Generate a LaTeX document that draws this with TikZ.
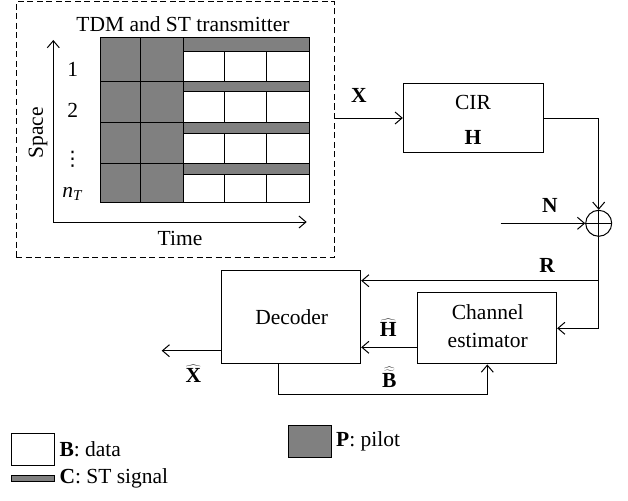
\documentclass[tikz,border=0pt]{standalone}
\usepackage{fontspec}
\setmainfont{Liberation Serif}
\newfontfamily\dvfont{DejaVu Sans}
\usetikzlibrary{arrows.meta}
\begin{document}
\begin{tikzpicture}[x=1pt,y=-1pt,
  every node/.style={font=\fontsize{21.5}{25}\selectfont, inner sep=0pt},
  ln/.style={line width=1pt},
  arr/.style={ln, -{Straight Barb[length=7pt,width=12pt,line width=1pt]}},
  blk/.style={ln, draw, rectangle, inner sep=0pt},
  pil/.style={ln, draw, fill=gray},
  dat/.style={ln, draw, fill=white},
  lbl/.style={anchor=center}]
\useasboundingbox (0,0) rectangle (628,500);

% transmitter frame
\node[ln, draw, dash pattern=on 6pt off 3.5pt, minimum width=318pt, minimum height=255pt] (tx) at (175,129.5) {};
\node[lbl] (title) at (183,24) {TDM and ST transmitter};

% pilot columns
\draw[pil] (100,37.3) rectangle (183,202.7);
\draw[ln] (140,37.3) -- (140,202.7);
\foreach \t in {81.7,122.7,163.7}{
  \draw[ln] (100,\t) -- (183,\t);
}
% ST stripes and data cells
\foreach \t/\s/\b in {37.3/51.7/81.7, 81.7/92/122.7, 122.7/133.3/163.7, 163.7/174.7/202.7}{
  \draw[pil] (183,\t) rectangle (309,\s);
  \draw[dat] (183,\s) rectangle (224,\b);
  \draw[dat] (224,\s) rectangle (266,\b);
  \draw[dat] (266,\s) rectangle (309,\b);
}

% axes
\coordinate (orig) at (53.3,222);
\coordinate (ytop) at (53.3,40);
\coordinate (xend) at (306.7,222);
\draw[arr] (orig) -- (ytop);
\draw[arr] (orig) -- (xend);
\node[lbl, rotate=90] (space) at (38,133) {Space};
\node[lbl] (time) at (180,238) {Time};
\node[lbl] (r1) at (72.7,69.3) {1};
\node[lbl] (r2) at (72.7,110) {2};
\node[lbl, font=\dvfont\fontsize{20}{22}\selectfont] (rd) at (72.7,159) {⋮};
\node[lbl] (rn) at (72.7,193.5) {\textit{n}\textsubscript{\textit{T}}};

% CIR
\node[blk, minimum width=140.4pt, minimum height=69.4pt] (cir) at (473.5,118) {};
\node[lbl] (cirt) at (473,102.7) {CIR};
\node[lbl] (cirh) at (473,137.7) {\textbf{H}};
\draw[arr] (cir.west -| tx.east) -- (cir.west);
\node[lbl] (xl) at (359,95) {\textbf{X}};

% sum
\node[ln, draw, circle, minimum size=26pt] (sum) at (598.7,223.3) {};
\draw[ln] (sum.west) -- (sum.east);
\draw[ln] (sum.north) -- (sum.south);
\draw[arr] (cir.east) -| (sum.north);
\coordinate (nin) at (500.7,223.3);
\draw[arr] (nin) -- (sum.west);
\node[lbl] (nl) at (550,205.7) {\textbf{N}};

% receiver blocks
\node[blk, minimum width=138.7pt, minimum height=93.3pt] (dec) at (291.3,317.3) {};
\node[lbl] (dect) at (291.7,317.3) {Decoder};
\node[blk, minimum width=138.7pt, minimum height=71.3pt] (est) at (487.3,328.3) {};
\node[lbl] (est1) at (487.7,311.7) {Channel};
\node[lbl] (est2) at (487.7,340) {estimator};

\draw[arr] (sum.south) |- (est.east);
\coordinate (rj) at (598.7,280.7);
\draw[arr] (rj) -- (rj -| dec.east);
\node[lbl] (rl) at (547.3,265) {\textbf{R}};

\coordinate (hy) at (0,347.3);
\draw[arr] (est.west |- hy) -- (dec.east |- hy);
\node[lbl] (hl) at (388.3,328) {$\widehat{\textbf{H}}$};

\coordinate (xout) at (161.7,350.7);
\draw[arr] (dec.west |- xout) -- (xout);
\node[lbl] (xhl) at (193.3,374) {$\widehat{\textbf{X}}$};

\draw[arr] ([xshift=-13pt]dec.south) -- ++(0,30.3) -| (est.south);
\node[lbl] (bl) at (389.3,377) {$\widehat{\widetilde{\textbf{B}}}$};

% legend
\draw[dat] (11.7,433.3) rectangle (54,465);
\node[anchor=west] (lb) at (59.3,449.3) {\textbf{B}: data};
\draw[pil] (11.7,475.7) rectangle (54,481.7);
\node[anchor=west] (lc) at (59.3,478.3) {\textbf{C}: ST signal};
\draw[pil] (288.3,425) rectangle (331,457.3);
\node[anchor=west] (lp) at (336,441.3) {\textbf{P}: pilot};
\end{tikzpicture}
\end{document}
